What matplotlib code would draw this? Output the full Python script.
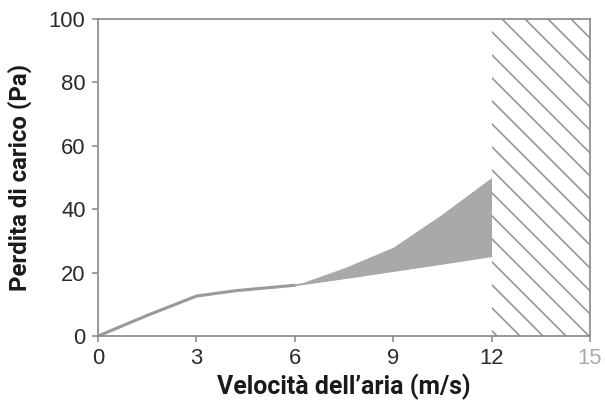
import matplotlib
matplotlib.use('Agg')
import matplotlib.pyplot as plt

# lower curve (base) and upper edge of the grey band
vel = [0, 1.5, 3, 4.2, 6, 7.5, 9, 10.5, 12]
lower = [0, 6.5, 12.6, 14.3, 16.0, 18.2, 20.5, 22.8, 25.2]
upper = [0, 6.5, 12.6, 14.3, 16.0, 21.5, 28.0, 38.5, 50.0]
xticks = [0, 3, 6, 9, 12, 15]
yticks = [0, 20, 40, 60, 80, 100]
limit_start = 12
limit_end = 15

dpi = 138
plt.rcParams['hatch.linewidth'] = 0.8
plt.rcParams['hatch.color'] = '#8f8f8f'

fig = plt.figure(figsize=(605 / dpi, 401 / dpi), dpi=dpi)
ax = fig.add_axes([0.162, 0.162, 0.813, 0.791])

ax.fill_between(vel, lower, upper, color='#a9a9ab', lw=0)
ax.plot(vel[:5], lower[:5], color='#9a9a9a', lw=1.6, solid_capstyle='round')
ax.plot(vel[4:], lower[4:], color='#a9a9ab', lw=1.0)
ax.axvspan(limit_start, limit_end, facecolor='none', edgecolor='#8f8f8f',
           hatch='\\\\', lw=0)

ax.set_xlim(0, 15)
ax.set_ylim(0, 100)
ax.set_xticks(xticks)
ax.set_yticks(yticks)
ax.set_xticklabels([str(t) for t in xticks], fontfamily='Liberation Sans')
ax.set_yticklabels([str(t) for t in yticks], fontfamily='Liberation Sans')
ax.tick_params(labelsize=11.5, colors='#888888', labelcolor='#2a2a2a',
               length=3, width=0.8)
ax.get_xticklabels()[-1].set_color('#aaaaaa')

for s in ax.spines.values():
    s.set_color('#8c8c8c')
    s.set_linewidth(0.9)

ax.set_xlabel("Velocità dell’aria (m/s)", fontsize=13, fontweight='bold',
              fontfamily='Roboto', color='#1a1a1a', labelpad=2)
ax.set_ylabel('Perdita di carico (Pa)', fontsize=12.5, fontweight='bold',
              fontfamily='Roboto', color='#1a1a1a', labelpad=9)

fig.savefig('out.png', dpi=dpi)
